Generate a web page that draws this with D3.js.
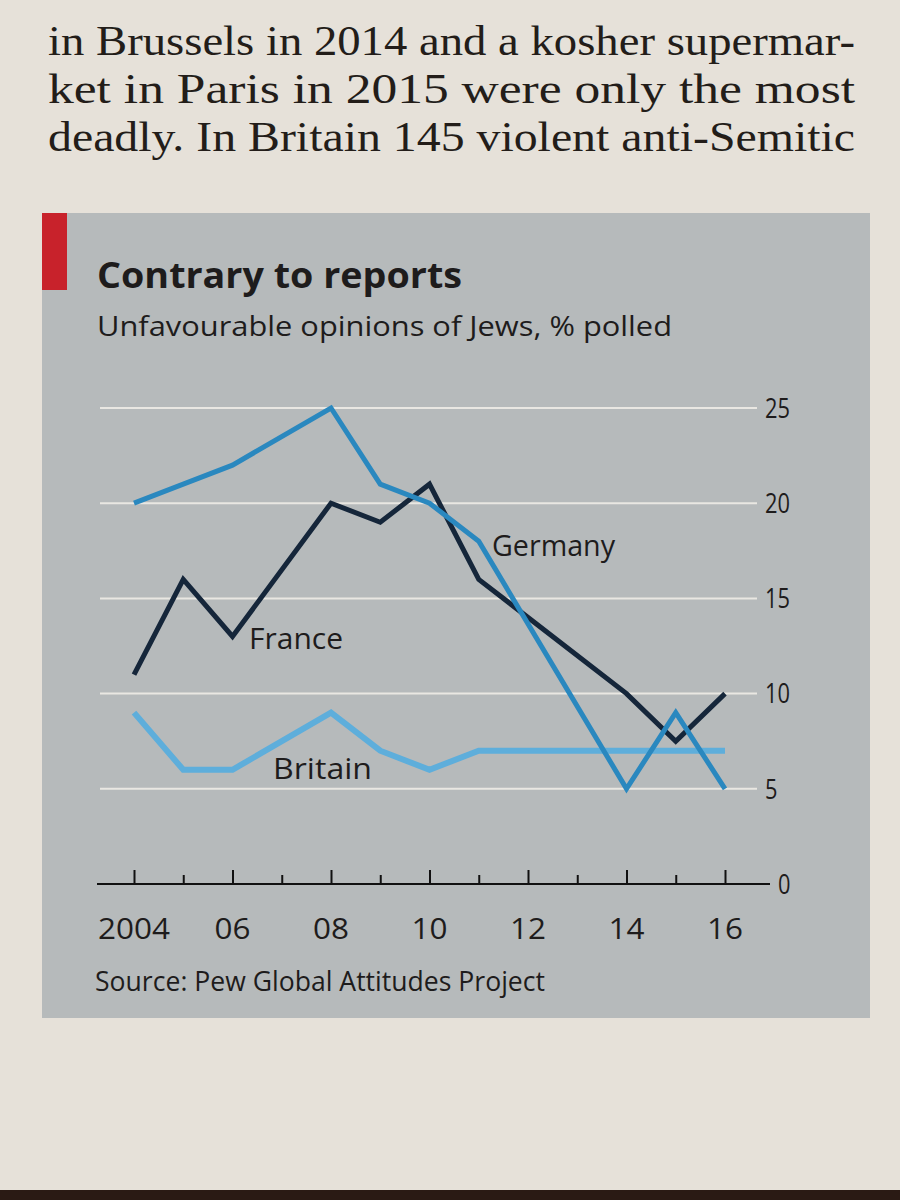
<!DOCTYPE html>
<html>
<head>
<meta charset="utf-8">
<script src="https://cdn.jsdelivr.net/npm/d3@7"></script>
<style>
  body { margin: 0; background: #e6e1d9; }
  svg { display: block; }
</style>
</head>
<body>
<script>
const years = [2004, 2005, 2006, 2008, 2009, 2010, 2011, 2014, 2015, 2016];
const france = [11, 16, 13, 20, 19, 21, 16, 10, 7.5, 10];
const germany = [20, 21, 22, 25, 21, 20, 18, 5, 9, 5];
const britain = [9, 6, 6, 9, 7, 6, 7, 7, 7, 7];
const yTicks = [0, 5, 10, 15, 20, 25];
const xLabels = ["2004", "06", "08", "10", "12", "14", "16"];

const paragraph = [
  "in Brussels in 2014 and a kosher supermar-",
  "ket in Paris in 2015 were only the most",
  "deadly. In Britain 145 violent anti-Semitic"
];

const width = 900;
const height = 1200;
const sans = "'Open Sans', 'Noto Sans', sans-serif";

const svg = d3.select("body").append("svg")
    .attr("width", width)
    .attr("height", height);

// paper
svg.append("rect")
    .attr("width", width).attr("height", height)
    .attr("fill", "#e6e1d9");
svg.append("rect")
    .attr("y", 1190).attr("width", width).attr("height", 10)
    .attr("fill", "#2a1a14");

// article text above the chart
svg.selectAll(".para")
  .data(paragraph)
  .enter().append("text")
    .attr("class", "para")
    .attr("x", 48)
    .attr("y", (d, i) => 55 + i * 48)
    .attr("textLength", 807)
    .attr("lengthAdjust", "spacingAndGlyphs")
    .style("font-family", "'Liberation Serif', 'DejaVu Serif', serif")
    .style("font-size", "42px")
    .attr("fill", "#231d19")
    .text(d => d);

// chart panel
svg.append("rect")
    .attr("x", 42).attr("y", 213)
    .attr("width", 828).attr("height", 805)
    .attr("fill", "#b6babb");
svg.append("rect")
    .attr("x", 42).attr("y", 213)
    .attr("width", 25).attr("height", 77)
    .attr("fill", "#c8222b");

svg.append("text")
    .attr("x", 97).attr("y", 288)
    .attr("textLength", 365)
    .attr("lengthAdjust", "spacingAndGlyphs")
    .style("font-family", sans)
    .style("font-size", "36px")
    .style("font-weight", "bold")
    .attr("fill", "#1e1c1c")
    .text("Contrary to reports");

svg.append("text")
    .attr("x", 97).attr("y", 336)
    .attr("textLength", 575)
    .attr("lengthAdjust", "spacingAndGlyphs")
    .style("font-family", sans)
    .style("font-size", "28px")
    .attr("fill", "#1e1c1c")
    .text("Unfavourable opinions of Jews, % polled");

const x = d3.scaleLinear()
    .domain([2004, 2016])
    .range([134, 725]);

const y = d3.scaleLinear()
    .domain([0, 25])
    .range([884, 408]);

// gridlines
svg.selectAll(".grid")
  .data(yTicks.filter(d => d > 0))
  .enter().append("line")
    .attr("class", "grid")
    .attr("x1", 100).attr("x2", 757)
    .attr("y1", d => y(d)).attr("y2", d => y(d))
    .attr("stroke", "#e9e7e2")
    .attr("stroke-width", 2);

// y labels on the right
svg.selectAll(".ylab")
  .data(yTicks)
  .enter().append("text")
    .attr("class", "ylab")
    .attr("x", d => d === 0 ? 778 : 765)
    .attr("y", d => y(d))
    .attr("dy", "0.36em")
    .attr("textLength", d => String(d).length * 12.5)
    .attr("lengthAdjust", "spacingAndGlyphs")
    .style("font-family", sans)
    .style("font-size", "27px")
    .attr("fill", "#1e1c1c")
    .text(d => d);

// x axis
const allYears = d3.range(2004, 2017);
const xAxis = svg.append("g")
    .attr("transform", `translate(0,${y(0)})`)
    .call(d3.axisTop(x)
      .tickValues(allYears)
      .tickSize(0)
      .tickFormat(""));
xAxis.select(".domain").remove();
xAxis.append("line")
    .attr("x1", 97).attr("x2", 770)
    .attr("stroke", "#111").attr("stroke-width", 2);
xAxis.selectAll(".tick line")
    .attr("y2", d => d % 2 === 0 ? -14 : -9)
    .attr("stroke", "#111")
    .attr("stroke-width", 2);

svg.selectAll(".xlab")
  .data(xLabels)
  .enter().append("text")
    .attr("class", "xlab")
    .attr("x", (d, i) => x(2004 + i * 2))
    .attr("y", 939)
    .attr("text-anchor", "middle")
    .attr("textLength", d => d.length * 18)
    .attr("lengthAdjust", "spacingAndGlyphs")
    .style("font-family", sans)
    .style("font-size", "29px")
    .attr("fill", "#1e1c1c")
    .text(d => d);

// lines
const line = d3.line()
    .x(d => x(d[0]))
    .y(d => y(d[1]));

const series = [
  { name: "Britain", values: britain, color: "#5eaedb", w: 6 },
  { name: "France", values: france, color: "#15263a", w: 5 },
  { name: "Germany", values: germany, color: "#2a88bf", w: 5 }
];

svg.selectAll(".series")
  .data(series)
  .enter().append("path")
    .attr("class", "series")
    .attr("d", s => line(years.map((yr, i) => [yr, s.values[i]])))
    .attr("fill", "none")
    .attr("stroke", s => s.color)
    .attr("stroke-width", s => s.w)
    .attr("stroke-linejoin", "miter");

const labels = [
  { text: "Germany", x: 492, y: 556, w: 123 },
  { text: "France", x: 249, y: 649, w: 94 },
  { text: "Britain", x: 273, y: 779, w: 99 }
];

svg.selectAll(".lab")
  .data(labels)
  .enter().append("text")
    .attr("class", "lab")
    .attr("x", d => d.x)
    .attr("y", d => d.y)
    .attr("textLength", d => d.w)
    .attr("lengthAdjust", "spacingAndGlyphs")
    .style("font-family", sans)
    .style("font-size", "29px")
    .attr("fill", "#1e1c1c")
    .text(d => d.text);

svg.append("text")
    .attr("x", 95).attr("y", 991)
    .attr("textLength", 450)
    .attr("lengthAdjust", "spacingAndGlyphs")
    .style("font-family", sans)
    .style("font-size", "27px")
    .attr("fill", "#1e1c1c")
    .text("Source: Pew Global Attitudes Project");
</script>
</body>
</html>
